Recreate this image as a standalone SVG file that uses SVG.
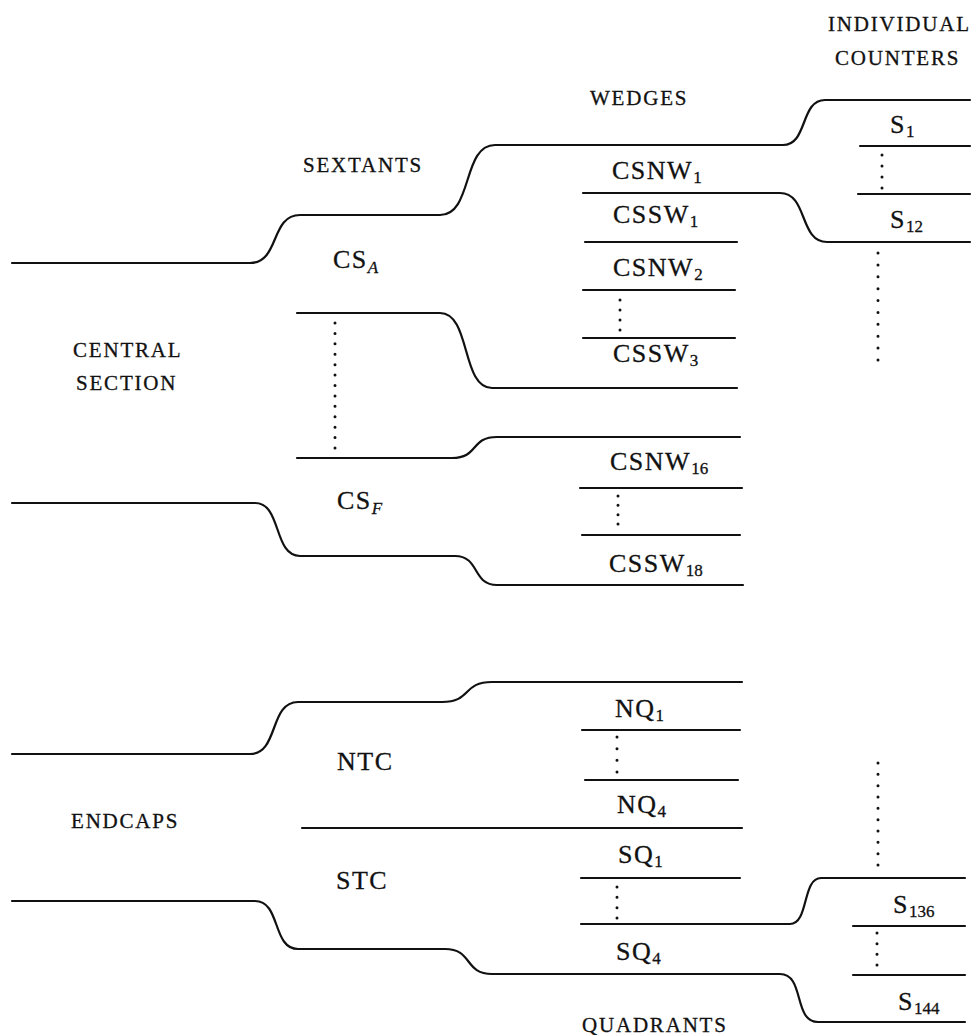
<svg xmlns="http://www.w3.org/2000/svg" width="973" height="1035" viewBox="0 0 973 1035">
<style>
.ln{fill:none;stroke:#111;stroke-width:2.2;stroke-linecap:round}
.dt{fill:none;stroke:#111;stroke-width:3;stroke-linecap:round}
.hd{font-family:'Liberation Serif','DejaVu Serif',serif;font-size:21px;letter-spacing:1.8px;fill:#111;stroke:#111;stroke-width:0.3}
.lb{font-family:'Liberation Serif','DejaVu Serif',serif;font-size:26px;letter-spacing:1.5px;fill:#111;stroke:#111;stroke-width:0.3}
.sb{font-size:17px;letter-spacing:0}
.it{font-style:italic}
</style>
<rect width="973" height="1035" fill="#fff"/>
<g id="connectors">
<path class="ln" d="M12,263 H250 C280,263 270,215 300,215 H440 C473,215 462,145 495,145 H783 C808,145 800,100 825,100 H970"/>
<path class="ln" d="M297,313 H440 C471,313 461,388 492,388 H737"/>
<path class="ln" d="M297,458 H452 C479,458 470,437 497,437 H740"/>
<path class="ln" d="M12,503 H255 C282,503 273,556 300,556 H455 C480,556 472,585 497,585 H743"/>
<path class="ln" d="M583,193 H780 C808,193 799,242 827,242 H970"/>
<path class="ln" d="M585,242 H737"/>
<path class="ln" d="M583,290 H735"/>
<path class="ln" d="M583,338 H735"/>
<path class="ln" d="M580,488 H742"/>
<path class="ln" d="M582,535 H740"/>
<path class="ln" d="M860,146 H970"/>
<path class="ln" d="M858,194 H970"/>
<path class="ln" d="M12,754 H250 C279,754 269,702 298,702 H442 C472,702 462,682 492,682 H742"/>
<path class="ln" d="M302,828 H742"/>
<path class="ln" d="M12,901 H255 C281,901 272,949 298,949 H445 C473,949 464,974 492,974 H780 C805,974 793,1022 818,1022 H965"/>
<path class="ln" d="M581,924 H790 C809,924 802,878 821,878 H965"/>
<path class="ln" d="M582,730 H740"/>
<path class="ln" d="M585,780 H738"/>
<path class="ln" d="M581,878 H740"/>
<path class="ln" d="M853,926 H965"/>
<path class="ln" d="M853,975 H965"/>
<path class="dt" d="M335,323 V448.1" stroke-dasharray="0 10.42"/>
<path class="dt" d="M620,300 V330.1" stroke-dasharray="0 10"/>
<path class="dt" d="M882,155 V188.1" stroke-dasharray="0 11"/>
<path class="dt" d="M878,253 V360.1" stroke-dasharray="0 11.89"/>
<path class="dt" d="M618,496 V524.1" stroke-dasharray="0 9.33"/>
<path class="dt" d="M617,737 V772.1" stroke-dasharray="0 11.67"/>
<path class="dt" d="M617,887 V918.1" stroke-dasharray="0 10.33"/>
<path class="dt" d="M878,763 V865.1" stroke-dasharray="0 11.33"/>
<path class="dt" d="M877,933 V965.1" stroke-dasharray="0 10.67"/>
</g>
<g id="headings">
<text class="hd" x="828" y="31">INDIVIDUAL</text>
<text class="hd" x="835" y="65">COUNTERS</text>
<text class="hd" x="590" y="105">WEDGES</text>
<text class="hd" x="303" y="172">SEXTANTS</text>
<text class="hd" x="582" y="1032">QUADRANTS</text>
</g>
<g id="central-section"><text class="hd" x="73" y="357">CENTRAL</text><text class="hd" x="76" y="390">SECTION</text></g>
<g id="endcaps"><text class="hd" x="71" y="828">ENDCAPS</text></g>
<g id="csa"><text class="lb" x="333" y="268">CS<tspan class="sb it" dy="5">A</tspan></text></g>
<g id="csf"><text class="lb" x="337" y="509">CS<tspan class="sb it" dy="5">F</tspan></text></g>
<g id="ntc"><text class="lb" x="337" y="770">NTC</text></g>
<g id="stc"><text class="lb" x="336" y="889">STC</text></g>
<g id="csnw1"><text class="lb" x="612" y="179">CSNW<tspan class="sb" dy="4">1</tspan></text></g>
<g id="cssw1"><text class="lb" x="613" y="223">CSSW<tspan class="sb" dy="4">1</tspan></text></g>
<g id="csnw2"><text class="lb" x="613" y="276">CSNW<tspan class="sb" dy="4">2</tspan></text></g>
<g id="cssw3"><text class="lb" x="613" y="362">CSSW<tspan class="sb" dy="4">3</tspan></text></g>
<g id="csnw16"><text class="lb" x="610" y="470">CSNW<tspan class="sb" dy="4">16</tspan></text></g>
<g id="cssw18"><text class="lb" x="609" y="572">CSSW<tspan class="sb" dy="4">18</tspan></text></g>
<g id="nq1"><text class="lb" x="615" y="717">NQ<tspan class="sb" dy="4">1</tspan></text></g>
<g id="nq4"><text class="lb" x="617" y="813">NQ<tspan class="sb" dy="4">4</tspan></text></g>
<g id="sq1"><text class="lb" x="618" y="863">SQ<tspan class="sb" dy="4">1</tspan></text></g>
<g id="sq4"><text class="lb" x="616" y="960">SQ<tspan class="sb" dy="4">4</tspan></text></g>
<g id="s1"><text class="lb" x="890" y="133">S<tspan class="sb" dy="4">1</tspan></text></g>
<g id="s12"><text class="lb" x="890" y="228">S<tspan class="sb" dy="4">12</tspan></text></g>
<g id="s136"><text class="lb" x="893" y="913">S<tspan class="sb" dy="4">136</tspan></text></g>
<g id="s144"><text class="lb" x="898" y="1010">S<tspan class="sb" dy="4">144</tspan></text></g>
</svg>
